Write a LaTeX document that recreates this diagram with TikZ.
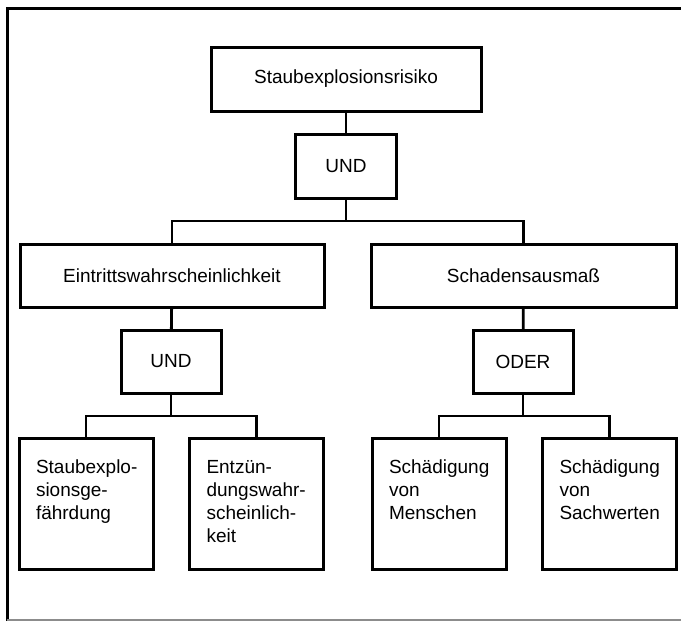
\documentclass[tikz,border=0pt]{standalone}
\usepackage{fontspec}
\setmainfont{Liberation Sans}
\usepackage{tikz}
\usetikzlibrary{positioning}

\newcommand{\leaftext}[1]{\parbox[c][87pt][t]{106pt}{\raggedright\leftskip=3pt #1}}

\begin{document}
\begin{tikzpicture}[line cap=rect,line join=miter,x=1pt,y=-1pt,
  font=\fontsize{19}{23}\selectfont,
  box/.style={draw,line width=3pt,inner sep=0pt},
  gatebox/.style={box,minimum width=100pt,minimum height=63pt},
  leafbox/.style={draw,line width=3pt,inner xsep=14pt,inner ysep=22pt},
  link/.style={line width=2.8pt}]
\useasboundingbox (0,0) rectangle (681,622);
% frame
\draw[line width=2.6pt] (7.5,620) -- (7.5,8.5) -- (681,8.5);
\draw[line width=1.6pt,color=black!45] (7.5,620) -- (681,620);
% top level
\node[box,minimum width=270pt,minimum height=64pt] (risk) at (346,79) {Staubexplosionsrisiko};
\node[gatebox,minimum width=101pt,minimum height=64pt] (und1) at (346,166) {UND};
\node[box,minimum width=304pt,minimum height=63pt] (eintritt) at (172,275.5) {Eintrittswahrscheinlichkeit};
\node[box,minimum width=305pt,minimum height=63pt] (schaden) at (523.5,275.5) {Schadensausmaß};
% gates
\node[gatebox] (und2) at (171,361.5) {UND};
\node[gatebox] (oder) at (523,361.5) {ODER};
% leaves
\node[leafbox] (gefahr) at (86,503.5) {\leaftext{\mbox{Staubexplo-}\\sionsge-\\fährdung}};
\node[leafbox] (zuend) at (256.5,503.5) {\leaftext{Entzün-\\dungswahr-\\scheinlich-\\keit}};
\node[leafbox] (menschen) at (439,503.5) {\leaftext{Schädigung\\von\\Menschen}};
\node[leafbox] (sachwerte) at (609.5,503.5) {\leaftext{Schädigung\\von\\Sachwerten}};
% junctions
\coordinate (j1) at (346,221);
\coordinate (j2) at (171,416);
\coordinate (j3) at (523,416);
% connectors
\draw[link] (risk) -- (und1);
\draw[link] (und1) -- (j1);
\draw[link] (eintritt.north) |- (j1) -| (schaden.north);
\draw[link] (eintritt) -- (und2);
\draw[link] (schaden) -- (oder);
\draw[link] (und2) -- (j2);
\draw[link] (gefahr.north) |- (j2) -| (zuend.north);
\draw[link] (oder) -- (j3);
\draw[link] (menschen.north) |- (j3) -| (sachwerte.north);
\end{tikzpicture}
\end{document}
